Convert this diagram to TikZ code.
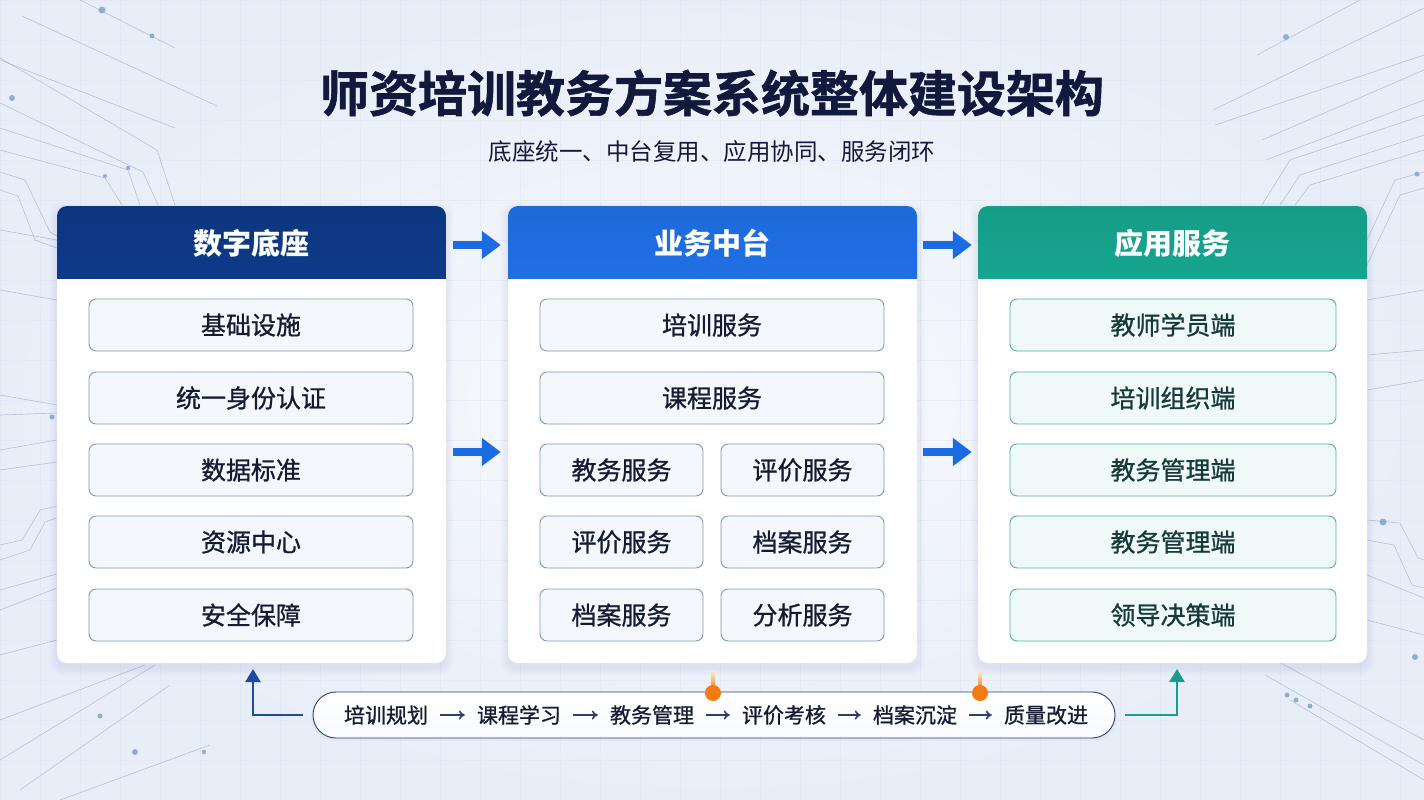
\documentclass[tikz,border=0pt]{standalone}
\usepackage{fontspec}
\setmainfont{Noto Sans CJK SC}
\newfontfamily\medcjk[FakeBold=0.9]{Noto Sans CJK SC}
\newfontfamily\heavycjk[FakeBold=1.2]{Noto Sans CJK SC Bold}
\usetikzlibrary{arrows.meta,calc}
\definecolor{bgin}{HTML}{F8FAFD}
\definecolor{bgout}{HTML}{E8EEF8}
\definecolor{gridc}{HTML}{DFE7F2}
\definecolor{titlec}{HTML}{111A3D}
\definecolor{hdrA}{HTML}{0E3A8A}
\definecolor{hdrB}{HTML}{1F6FE5}
\definecolor{hdrC}{HTML}{16A58F}
\definecolor{boxf}{HTML}{F4F7FC}
\definecolor{boxb}{HTML}{7F99BA}
\definecolor{boxt}{HTML}{141C33}
\definecolor{tboxf}{HTML}{EFFAF8}
\definecolor{tboxb}{HTML}{55AF9F}
\definecolor{tboxt}{HTML}{17393A}
\definecolor{arrblue}{HTML}{1B6BE3}
\definecolor{navy}{HTML}{1D4AA3}
\definecolor{pillb}{HTML}{2B3F70}
\definecolor{flowt}{HTML}{151C33}
\definecolor{tealarr}{HTML}{1A9C89}
\definecolor{orangec}{HTML}{F47B14}
\definecolor{decoc}{HTML}{8FA3BF}
\definecolor{dotc}{HTML}{7F9DD0}
\definecolor{shadowc}{HTML}{5A78B0}
\tikzset{
  card/.style={fill=white, rounded corners=10pt, minimum width=#1, minimum height=457pt, inner sep=0pt},
  hdrtext/.style={text=white, font=\fontsize{29}{34}\selectfont\bfseries, inner sep=0pt},
  ibox/.style={draw=boxb, line width=0.9pt, fill=boxf, rounded corners=7pt, minimum width=#1, minimum height=52pt, inner sep=0pt, text=boxt, font=\fontsize{25}{30}\selectfont\medcjk},
  tbox/.style={draw=tboxb, line width=0.9pt, fill=tboxf, rounded corners=7pt, minimum width=#1, minimum height=52pt, inner sep=0pt, text=tboxt, font=\fontsize{25}{30}\selectfont\medcjk},
  bigarr/.style={draw=arrblue, line width=8pt, -{Triangle[length=19pt,width=27pt]}},
  fitem/.style={inner sep=0pt, text=flowt, font=\fontsize{21}{25}\selectfont\medcjk},
  flowarr/.style={draw=pillb, line width=1.6pt, shorten <=12pt, shorten >=12pt, -{To[length=6pt,width=9pt]}},
  retarr/.style={line width=2.6pt, -{Triangle[length=13pt,width=15pt]}},
  deco/.style={draw=decoc, line width=0.6pt, opacity=0.6},
  decodot/.style={fill=dotc, opacity=0.8},
}
\newcommand{\softshadow}[4]{%
  \foreach \i in {1,...,8}{%
    \fill[shadowc, opacity=0.012, rounded corners=12pt] (#1-\i,#2-\i+4) rectangle (#3+\i,#4+\i+5);
  }}
\begin{document}
\begin{tikzpicture}[x=1pt,y=-1pt]
\useasboundingbox (0,0) rectangle (1424,800);
% background
\shade[inner color=bgin, outer color=bgout] (0,0) rectangle (1424,800);
\foreach \gx in {0,40,...,1424} \draw[gridc, line width=0.5pt, opacity=0.6] (\gx,0) -- (\gx,800);
\foreach \gy in {0,40,...,800} \draw[gridc, line width=0.5pt, opacity=0.6] (0,\gy) -- (1424,\gy);
% decorative circuit lines, left
\draw[deco] (80,0) -- (175,48);
\draw[deco] (22,16) -- (217,106);
\draw[deco] (0,60) -- (175,128);
\draw[deco] (0,58) -- (157,150) -- (175,205);
\draw[deco] (0,103) -- (143,172) -- (158,205);
\draw[deco] (0,128) -- (128,170) -- (140,205);
\draw[deco] (0,150) -- (105,178) -- (122,205);
\draw[deco] (0,172) -- (25,180) -- (50,232) -- (57,236);
\draw[deco] (0,190) -- (18,196) -- (35,240) -- (57,248);
\draw[deco] (0,230) -- (57,240);
\draw[deco] (0,290) -- (57,300);
\draw[deco] (0,395) -- (57,405);
\draw[deco] (0,415) -- (57,413);
\draw[deco] (0,450) -- (57,440);
\draw[deco] (0,470) -- (57,462);
\draw[deco] (0,545) -- (22,540) -- (40,510) -- (57,506);
\draw[deco] (0,560) -- (30,550) -- (45,522) -- (57,518);
\draw[deco] (0,590) -- (57,574);
\draw[deco] (0,610) -- (57,588);
\draw[deco] (0,655) -- (57,640);
\draw[deco] (0,720) -- (145,665);
\draw[deco] (0,760) -- (155,665);
\draw[deco] (20,790) -- (170,685);
\draw[deco] (60,800) -- (210,745);
\fill[decodot] (102,10) circle (3.5);
\fill[decodot] (152,36) circle (2.5);
\fill[decodot] (12,98) circle (3);
\fill[decodot] (128,168) circle (2.2);
\fill[decodot] (105,176) circle (2);
\fill[decodot] (52,417) circle (2.5);
\fill[decodot] (100,716) circle (2.5);
\fill[decodot] (135,752) circle (3);
\fill[decodot] (204,752) circle (2.2);
% decorative circuit lines, right
\draw[deco] (1257,55) -- (1360,0);
\draw[deco] (1213,110) -- (1424,8);
\draw[deco] (1215,125) -- (1424,55);
\draw[deco] (1262,140) -- (1424,70);
\draw[deco] (1266,160) -- (1424,100);
\draw[deco] (1262,205) -- (1290,160) -- (1424,115);
\draw[deco] (1280,205) -- (1300,175) -- (1424,135);
\draw[deco] (1295,205) -- (1310,185) -- (1424,150);
\draw[deco] (1367,240) -- (1395,180) -- (1424,172);
\draw[deco] (1367,265) -- (1400,195) -- (1424,188);
\draw[deco] (1367,300) -- (1424,290);
\draw[deco] (1367,355) -- (1424,350);
\draw[deco] (1367,390) -- (1424,380);
\draw[deco] (1367,520) -- (1400,523) -- (1418,558) -- (1424,560);
\draw[deco] (1367,540) -- (1394,545) -- (1412,585) -- (1424,588);
\draw[deco] (1367,575) -- (1424,598);
\draw[deco] (1367,620) -- (1424,635);
\draw[deco] (1275,660) -- (1424,740);
\draw[deco] (1265,675) -- (1424,765);
\draw[deco] (1290,700) -- (1424,780);
\fill[decodot] (1286,37) circle (3);
\fill[decodot] (1417,174) circle (2.5);
\fill[decodot] (1383,522) circle (3.5);
\fill[decodot] (1415,657) circle (3);
\fill[decodot] (1287,695) circle (2.5);
\fill[decodot] (1296,700) circle (2.5);
\fill[decodot] (1310,706) circle (2.5);
% title
\node[text=titlec, font=\fontsize{49}{56}\selectfont\heavycjk, inner sep=0pt] (title) at (712,93) {师资培训教务方案系统整体建设架构};
\node[text=titlec, font=\fontsize{23.5}{28}\selectfont, inner sep=0pt] (subtitle) at (712,152) {底座统一、中台复用、应用协同、服务闭环};
% shadows
\softshadow{57}{206}{446}{663}
\softshadow{508}{206}{917}{663}
\softshadow{978}{206}{1367}{663}
% cards
\node[card=389pt] (c1) at (251.5,434.5) {};
\node[card=409pt] (c2) at (712.5,434.5) {};
\node[card=389pt] (c3) at (1172.5,434.5) {};
\begin{scope}
\clip[rounded corners=10pt] (57,206) rectangle (446,663);
\shade[top color=hdrA!92!black, bottom color=hdrA] (57,206) rectangle (446,278);
\end{scope}
\begin{scope}
\clip[rounded corners=10pt] (508,206) rectangle (917,663);
\shade[top color=hdrB!95!black, bottom color=hdrB] (508,206) rectangle (917,278);
\end{scope}
\begin{scope}
\clip[rounded corners=10pt] (978,206) rectangle (1367,663);
\shade[top color=hdrC!95!black, bottom color=hdrC] (978,206) rectangle (1367,278);
\end{scope}
\node[hdrtext] (h1) at (251.5,243) {数字底座};
\node[hdrtext] (h2) at (712.5,243) {业务中台};
\node[hdrtext] (h3) at (1172.5,243) {应用服务};
% column 1
\node[ibox=324pt] (a1) at (251,325) {基础设施};
\node[ibox=324pt] (a2) at (251,398) {统一身份认证};
\node[ibox=324pt] (a3) at (251,470) {数据标准};
\node[ibox=324pt] (a4) at (251,542) {资源中心};
\node[ibox=324pt] (a5) at (251,615) {安全保障};
% column 2
\node[ibox=344pt] (b1) at (712,325) {培训服务};
\node[ibox=344pt] (b2) at (712,398) {课程服务};
\node[ibox=163pt] (b3) at (621.5,470) {教务服务};
\node[ibox=163pt] (b4) at (802.5,470) {评价服务};
\node[ibox=163pt] (b5) at (621.5,542) {评价服务};
\node[ibox=163pt] (b6) at (802.5,542) {档案服务};
\node[ibox=163pt] (b7) at (621.5,615) {档案服务};
\node[ibox=163pt] (b8) at (802.5,615) {分析服务};
% column 3
\node[tbox=326pt] (d1) at (1173,325) {教师学员端};
\node[tbox=326pt] (d2) at (1173,398) {培训组织端};
\node[tbox=326pt] (d3) at (1173,470) {教务管理端};
\node[tbox=326pt] (d4) at (1173,542) {教务管理端};
\node[tbox=326pt] (d5) at (1173,615) {领导决策端};
% big arrows
\draw[bigarr] ([xshift=7pt]c1.east |- 0,245) -- ([xshift=-7pt]c2.west |- 0,245);
\draw[bigarr] ([xshift=7pt]c1.east |- 0,452) -- ([xshift=-7pt]c2.west |- 0,452);
\draw[bigarr] ([xshift=6pt]c2.east |- 0,245) -- ([xshift=-6pt]c3.west |- 0,245);
\draw[bigarr] ([xshift=6pt]c2.east |- 0,452) -- ([xshift=-6pt]c3.west |- 0,452);
% bottom flow
\fill[shadowc, opacity=0.06, rounded corners=24pt] (311,694) rectangle (1117,741);
\node[draw=pillb, line width=0.9pt, top color=white, bottom color=bgin, rounded corners=23pt, minimum width=802pt, minimum height=46pt, inner sep=0pt] (flow) at (714,715) {};
\node[fitem] (f1) at (386,715) {培训规划};
\node[fitem] (f2) at (519,715) {课程学习};
\node[fitem] (f3) at (652,715) {教务管理};
\node[fitem] (f4) at (784,715) {评价考核};
\node[fitem] (f5) at (915,715) {档案沉淀};
\node[fitem] (f6) at (1046,715) {质量改进};
\draw[flowarr] (f1) -- (f2);
\draw[flowarr] (f2) -- (f3);
\draw[flowarr] (f3) -- (f4);
\draw[flowarr] (f4) -- (f5);
\draw[flowarr] (f5) -- (f6);
% orange markers
\shade[top color=orangec!15, bottom color=orangec] (711.5,671) rectangle (714.5,690);
\fill[orangec] (713,693) circle (8);
\shade[top color=orangec!15, bottom color=orangec] (978.5,671) rectangle (981.5,690);
\fill[orangec] (980,693) circle (8);
% return connectors
\coordinate (retL) at (253,669);
\coordinate (retR) at (1177,669);
\draw[retarr, navy] ([xshift=-10pt]flow.west) -| (retL);
\draw[retarr, tealarr] ([xshift=10pt]flow.east) -| (retR);
\end{tikzpicture}
\end{document}
